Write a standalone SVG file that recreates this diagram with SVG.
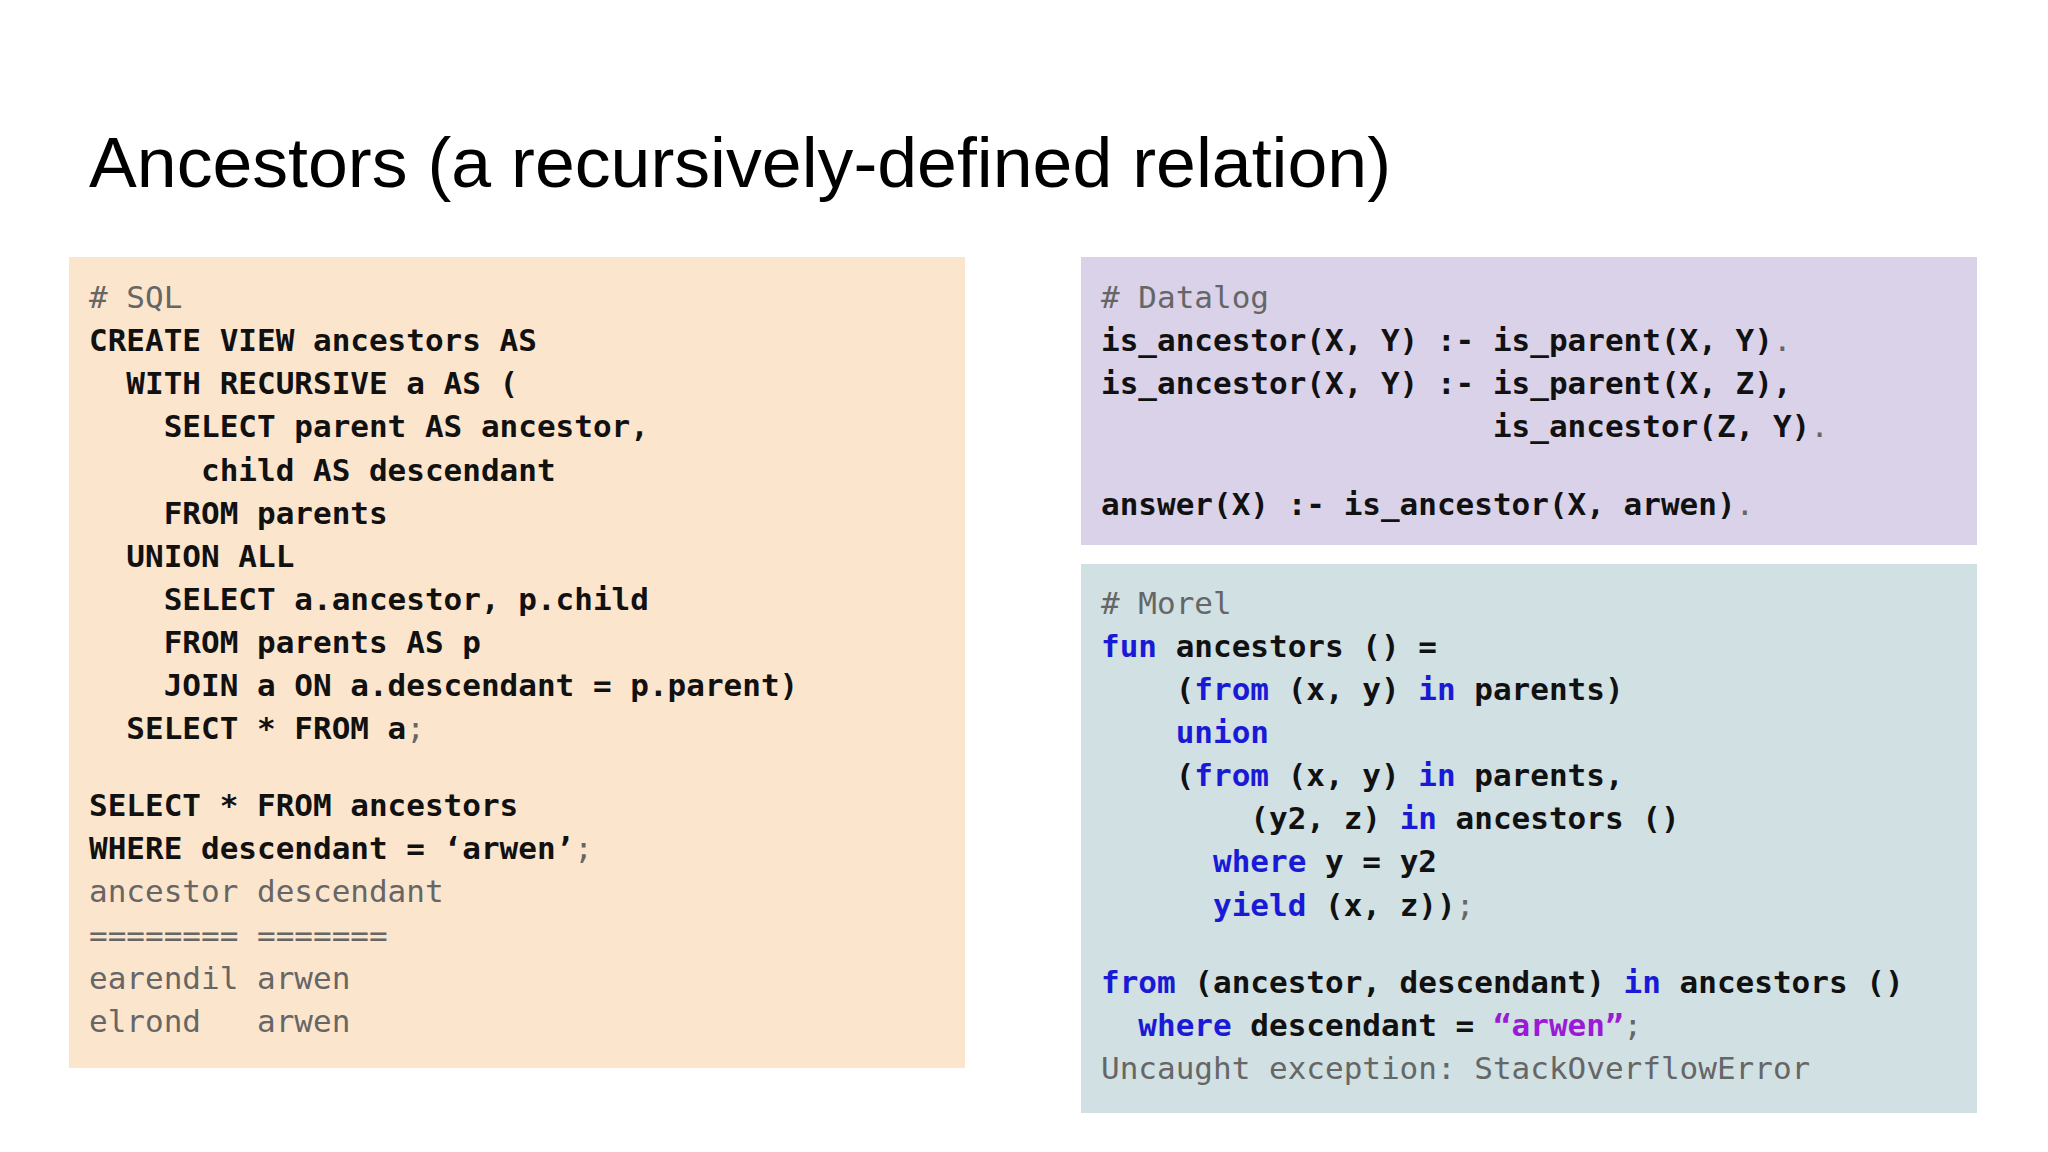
<svg xmlns="http://www.w3.org/2000/svg" width="2048" height="1152" viewBox="0 0 2048 1152">
<style>
.c{font-family:"DejaVu Sans Mono","Liberation Mono",monospace;font-size:31px;fill:#111;font-weight:bold}
.g{fill:#666;font-weight:normal}
.k{fill:#1a1ad6}
.s{fill:#9a1ad6}
.t{font-family:"Liberation Sans",Arial,sans-serif;font-size:70px;fill:#000}
</style>
<rect width="2048" height="1152" fill="#fff"/>
<text class="t" x="89" y="187" textLength="1302" lengthAdjust="spacingAndGlyphs">Ancestors (a recursively-defined relation)</text>
<g id="sql">
<rect x="69" y="257" width="896" height="811" fill="#fce5cd"/>
<text class="c" xml:space="preserve"><tspan x="89" y="308" class="g"># SQL</tspan><tspan x="89" y="351">CREATE VIEW ancestors AS</tspan><tspan x="89" y="394">  WITH RECURSIVE a AS (</tspan><tspan x="89" y="437">    SELECT parent AS ancestor,</tspan><tspan x="89" y="481">      child AS descendant</tspan><tspan x="89" y="524">    FROM parents</tspan><tspan x="89" y="567">  UNION ALL</tspan><tspan x="89" y="610">    SELECT a.ancestor, p.child</tspan><tspan x="89" y="653">    FROM parents AS p</tspan><tspan x="89" y="696">    JOIN a ON a.descendant = p.parent)</tspan><tspan x="89" y="739">  SELECT * FROM a<tspan class="g">;</tspan></tspan><tspan x="89" y="816">SELECT * FROM ancestors</tspan><tspan x="89" y="859">WHERE descendant = ‘arwen’<tspan class="g">;</tspan></tspan><tspan x="89" y="902" class="g">ancestor descendant</tspan><tspan x="89" y="946" class="g">======== =======</tspan><tspan x="89" y="989" class="g">earendil arwen</tspan><tspan x="89" y="1032" class="g">elrond   arwen</tspan></text>
</g>
<g id="datalog">
<rect x="1081" y="257" width="896" height="288" fill="#d9d2e9"/>
<text class="c" xml:space="preserve"><tspan x="1101" y="308" class="g"># Datalog</tspan><tspan x="1101" y="351">is_ancestor(X, Y) :- is_parent(X, Y)<tspan class="g">.</tspan></tspan><tspan x="1101" y="394">is_ancestor(X, Y) :- is_parent(X, Z),</tspan><tspan x="1101" y="437">                     is_ancestor(Z, Y)<tspan class="g">.</tspan></tspan><tspan x="1101" y="515">answer(X) :- is_ancestor(X, arwen)<tspan class="g">.</tspan></tspan></text>
</g>
<g id="morel">
<rect x="1081" y="564" width="896" height="549" fill="#d0e0e3"/>
<text class="c" xml:space="preserve"><tspan x="1101" y="614" class="g"># Morel</tspan><tspan x="1101" y="657"><tspan class="k">fun</tspan> ancestors () =</tspan><tspan x="1101" y="700">    (<tspan class="k">from</tspan> (x, y) <tspan class="k">in</tspan> parents)</tspan><tspan x="1101" y="743">    <tspan class="k">union</tspan></tspan><tspan x="1101" y="786">    (<tspan class="k">from</tspan> (x, y) <tspan class="k">in</tspan> parents,</tspan><tspan x="1101" y="829">        (y2, z) <tspan class="k">in</tspan> ancestors ()</tspan><tspan x="1101" y="872">      <tspan class="k">where</tspan> y = y2</tspan><tspan x="1101" y="916">      <tspan class="k">yield</tspan> (x, z))<tspan class="g">;</tspan></tspan><tspan x="1101" y="993"><tspan class="k">from</tspan> (ancestor, descendant) <tspan class="k">in</tspan> ancestors ()</tspan><tspan x="1101" y="1036">  <tspan class="k">where</tspan> descendant = <tspan class="s">“arwen”</tspan><tspan class="g">;</tspan></tspan><tspan x="1101" y="1079" class="g">Uncaught exception: StackOverflowError</tspan></text>
</g>
</svg>
